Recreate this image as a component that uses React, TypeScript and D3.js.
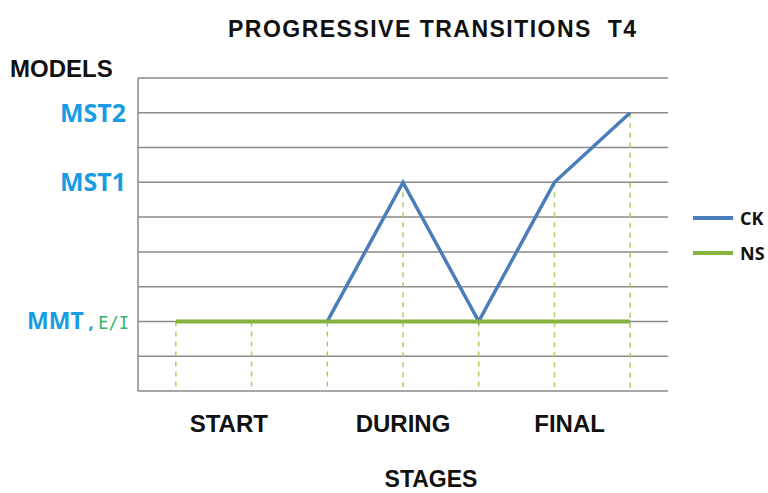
import React from 'react';
import * as d3 from 'd3';

// x positions 0..6 along the stages axis
const points = [0, 1, 2, 3, 4, 5, 6];
// model levels on the y axis (0 = bottom, 9 = top gridline)
const ckValues: (number | null)[] = [null, null, 2, 6, 2, 6, 8];
const nsValues = [2, 2, 2, 2, 2, 2, 2];
const gridLevels = [0, 1, 2, 3, 4, 5, 6, 7, 8, 9];
const modelLabels = [
  { level: 8, text: 'MST2' },
  { level: 6, text: 'MST1' },
  { level: 2, text: 'MMT' },
];
const stageLabels = [
  { pos: 0.7, text: 'START' },
  { pos: 3, text: 'DURING' },
  { pos: 5.2, text: 'FINAL' },
];
const legendItems = [
  { name: 'CK', color: '#4a7ebb' },
  { name: 'NS', color: '#86b33e' },
];

const W = 768;
const H = 493;
const plot = { left: 138, right: 668, top: 78, bottom: 391 };

export default function App() {
  const x = d3.scaleLinear().domain([-0.5, 6.5]).range([plot.left, plot.right]);
  const y = d3.scaleLinear().domain([0, 9]).range([plot.bottom, plot.top]);

  const line = d3
    .line<[number, number | null]>()
    .defined((d) => d[1] != null)
    .x((d) => x(d[0]))
    .y((d) => y(d[1] as number));

  const ckData = points.map((p, i) => [p, ckValues[i]] as [number, number | null]);
  const nsData = points.map((p, i) => [p, nsValues[i]] as [number, number | null]);

  // drop lines go from the higher of the two series down to the axis
  const dropTop = points.map((p, i) => Math.max(ckValues[i] ?? 0, nsValues[i]));

  const font = '"Liberation Sans", Arial, sans-serif';
  const labelFont = '"Open Sans", "Noto Sans", sans-serif';

  return (
    <svg
      width={W}
      height={H}
      style={{ position: 'absolute', left: 0, top: 0, background: '#fff' }}
    >
      <text x={228} y={37} fontFamily={font} fontWeight="bold" fontSize={23} fill="#111" textLength={408} lengthAdjust="spacing">
        PROGRESSIVE TRANSITIONS{'\u00a0\u00a0'}T4
      </text>
      <text x={10} y={77} fontFamily={font} fontWeight="bold" fontSize={24} fill="#111">
        MODELS
      </text>

      {gridLevels.map((g) => (
        <line
          key={g}
          x1={plot.left}
          x2={plot.right}
          y1={y(g)}
          y2={y(g)}
          stroke="#8a8a8a"
          strokeWidth={1.5}
        />
      ))}
      <line x1={plot.left} x2={plot.left} y1={plot.top} y2={plot.bottom} stroke="#8a8a8a" strokeWidth={1.5} />

      {points.map((p, i) => (
        <line
          key={p}
          x1={x(p)}
          x2={x(p)}
          y1={y(dropTop[i])}
          y2={plot.bottom}
          stroke="#b2cc5e"
          strokeWidth={1.5}
          strokeDasharray="5,5"
        />
      ))}

      <path d={line(ckData) || ''} fill="none" stroke={legendItems[0].color} strokeWidth={3.5} strokeLinejoin="miter" />
      <path d={line(nsData) || ''} fill="none" stroke={legendItems[1].color} strokeWidth={4} />

      {modelLabels.map((m) =>
        m.text === 'MMT' ? (
          <text key={m.text} x={129} y={y(m.level) + 8} textAnchor="end" fontFamily={labelFont} fontWeight={700} fontSize={23}>
            <tspan fill="#1a9be2">MMT</tspan>
            <tspan fill="#1a9be2" fontSize={18}> , </tspan>
            <tspan fill="#35b26e" fontFamily='"DejaVu Sans Mono", monospace' fontWeight="normal" fontSize={17}>E/I</tspan>
          </text>
        ) : (
          <text key={m.text} x={126} y={y(m.level) + 9} textAnchor="end" fontFamily={labelFont} fontWeight={700} fontSize={25} fill="#1a9be2">
            {m.text}
          </text>
        )
      )}

      {stageLabels.map((s) => (
        <text key={s.text} x={x(s.pos)} y={432} textAnchor="middle" fontFamily={font} fontWeight="bold" fontSize={24} fill="#111">
          {s.text}
        </text>
      ))}
      <text x={431} y={487} textAnchor="middle" fontFamily={font} fontWeight="bold" fontSize={23} fill="#111">
        STAGES
      </text>

      {legendItems.map((l, i) => (
        <g key={l.name} transform={`translate(693,${218 + i * 35})`}>
          <line x1={0} x2={40} y1={0} y2={0} stroke={l.color} strokeWidth={4} />
          <text x={47} y={7} fontFamily={labelFont} fontWeight="bold" fontSize={18} fill="#111">
            {l.name}
          </text>
        </g>
      ))}
    </svg>
  );
}
